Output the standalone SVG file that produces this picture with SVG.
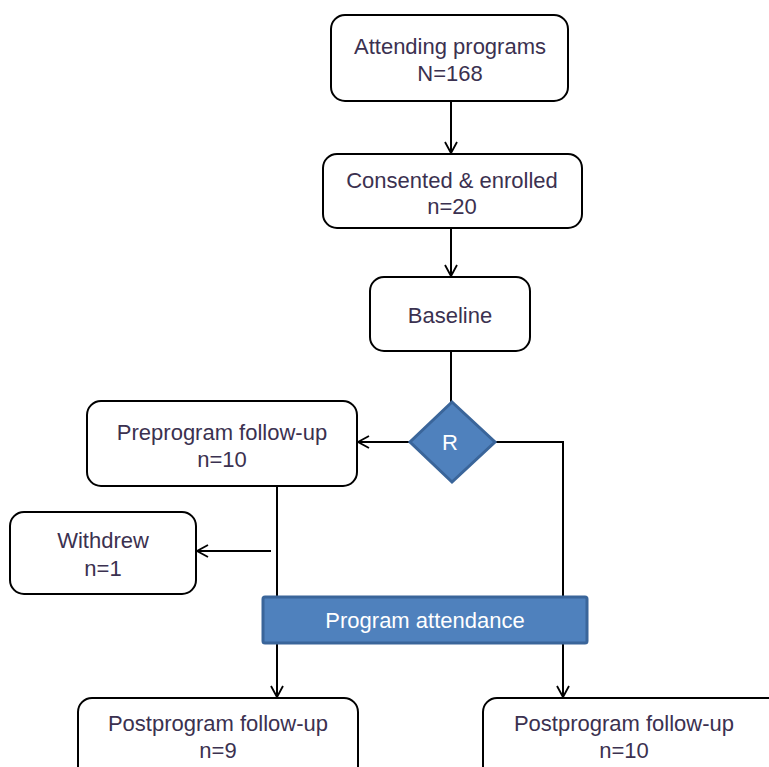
<svg xmlns="http://www.w3.org/2000/svg" width="769" height="767" viewBox="0 0 769 767">
<defs>
<marker id="ah" markerWidth="14" markerHeight="14" refX="12" refY="7" orient="auto" markerUnits="userSpaceOnUse">
<path d="M1,1 L12,7 L1,13" fill="none" stroke="#000" stroke-width="1.8"/>
</marker>
<style>
.box{fill:#fff;stroke:#000;stroke-width:2}
.t{font-family:"Liberation Sans",Arial,sans-serif;font-size:22px;fill:#3b3150;text-anchor:middle}
.w{font-family:"Liberation Sans",Arial,sans-serif;font-size:22px;fill:#fff;text-anchor:middle}
.blue{fill:#4f81bd;stroke:#3a659a;stroke-width:3}
.c{fill:none;stroke:#000;stroke-width:2}
</style>
</defs>
<rect width="769" height="767" fill="#fff"/>
<g id="connectors">
<line class="c" x1="451" y1="101" x2="451" y2="153" marker-end="url(#ah)"/>
<line class="c" x1="451" y1="228" x2="451" y2="276" marker-end="url(#ah)"/>
<line class="c" x1="451" y1="351" x2="451" y2="402"/>
<line class="c" x1="409" y1="442" x2="358" y2="442" marker-end="url(#ah)"/>
<polyline class="c" points="496,442 563,442 563,598"/>
<line class="c" x1="277" y1="486" x2="277" y2="598"/>
<line class="c" x1="271" y1="551" x2="197" y2="551" marker-end="url(#ah)"/>
<line class="c" x1="277" y1="643" x2="277" y2="697" marker-end="url(#ah)"/>
<line class="c" x1="563" y1="643" x2="563" y2="697" marker-end="url(#ah)"/>
</g>
<g id="attending">
<rect class="box" x="331" y="15" width="237" height="86" rx="14"/>
<text class="t" x="450" y="54">Attending programs</text>
<text class="t" x="450" y="81">N=168</text>
</g>
<g id="consented">
<rect class="box" x="323" y="154" width="259" height="74" rx="14"/>
<text class="t" x="452" y="188">Consented &amp; enrolled</text>
<text class="t" x="452" y="214">n=20</text>
</g>
<g id="baseline">
<rect class="box" x="370" y="277" width="160" height="74" rx="14"/>
<text class="t" x="450" y="323">Baseline</text>
</g>
<g id="randomize">
<polygon class="blue" points="452,402 495,442 452,482 410,442"/>
<text class="w" x="450" y="450">R</text>
</g>
<g id="preprogram">
<rect class="box" x="87" y="401" width="270" height="85" rx="14"/>
<text class="t" x="222" y="440">Preprogram follow-up</text>
<text class="t" x="222" y="467">n=10</text>
</g>
<g id="withdrew">
<rect class="box" x="10" y="512" width="186" height="82" rx="14"/>
<text class="t" x="103" y="548">Withdrew</text>
<text class="t" x="103" y="576">n=1</text>
</g>
<g id="attendance">
<rect class="blue" x="263" y="597" width="324" height="46" rx="2"/>
<text class="w" x="425" y="628">Program attendance</text>
</g>
<g id="post1">
<rect class="box" x="78" y="698" width="280" height="90" rx="14"/>
<text class="t" x="218" y="731">Postprogram follow-up</text>
<text class="t" x="218" y="758">n=9</text>
</g>
<g id="post2">
<rect class="box" x="483" y="698" width="300" height="90" rx="14"/>
<text class="t" x="624" y="731">Postprogram follow-up</text>
<text class="t" x="624" y="758">n=10</text>
</g>
</svg>
